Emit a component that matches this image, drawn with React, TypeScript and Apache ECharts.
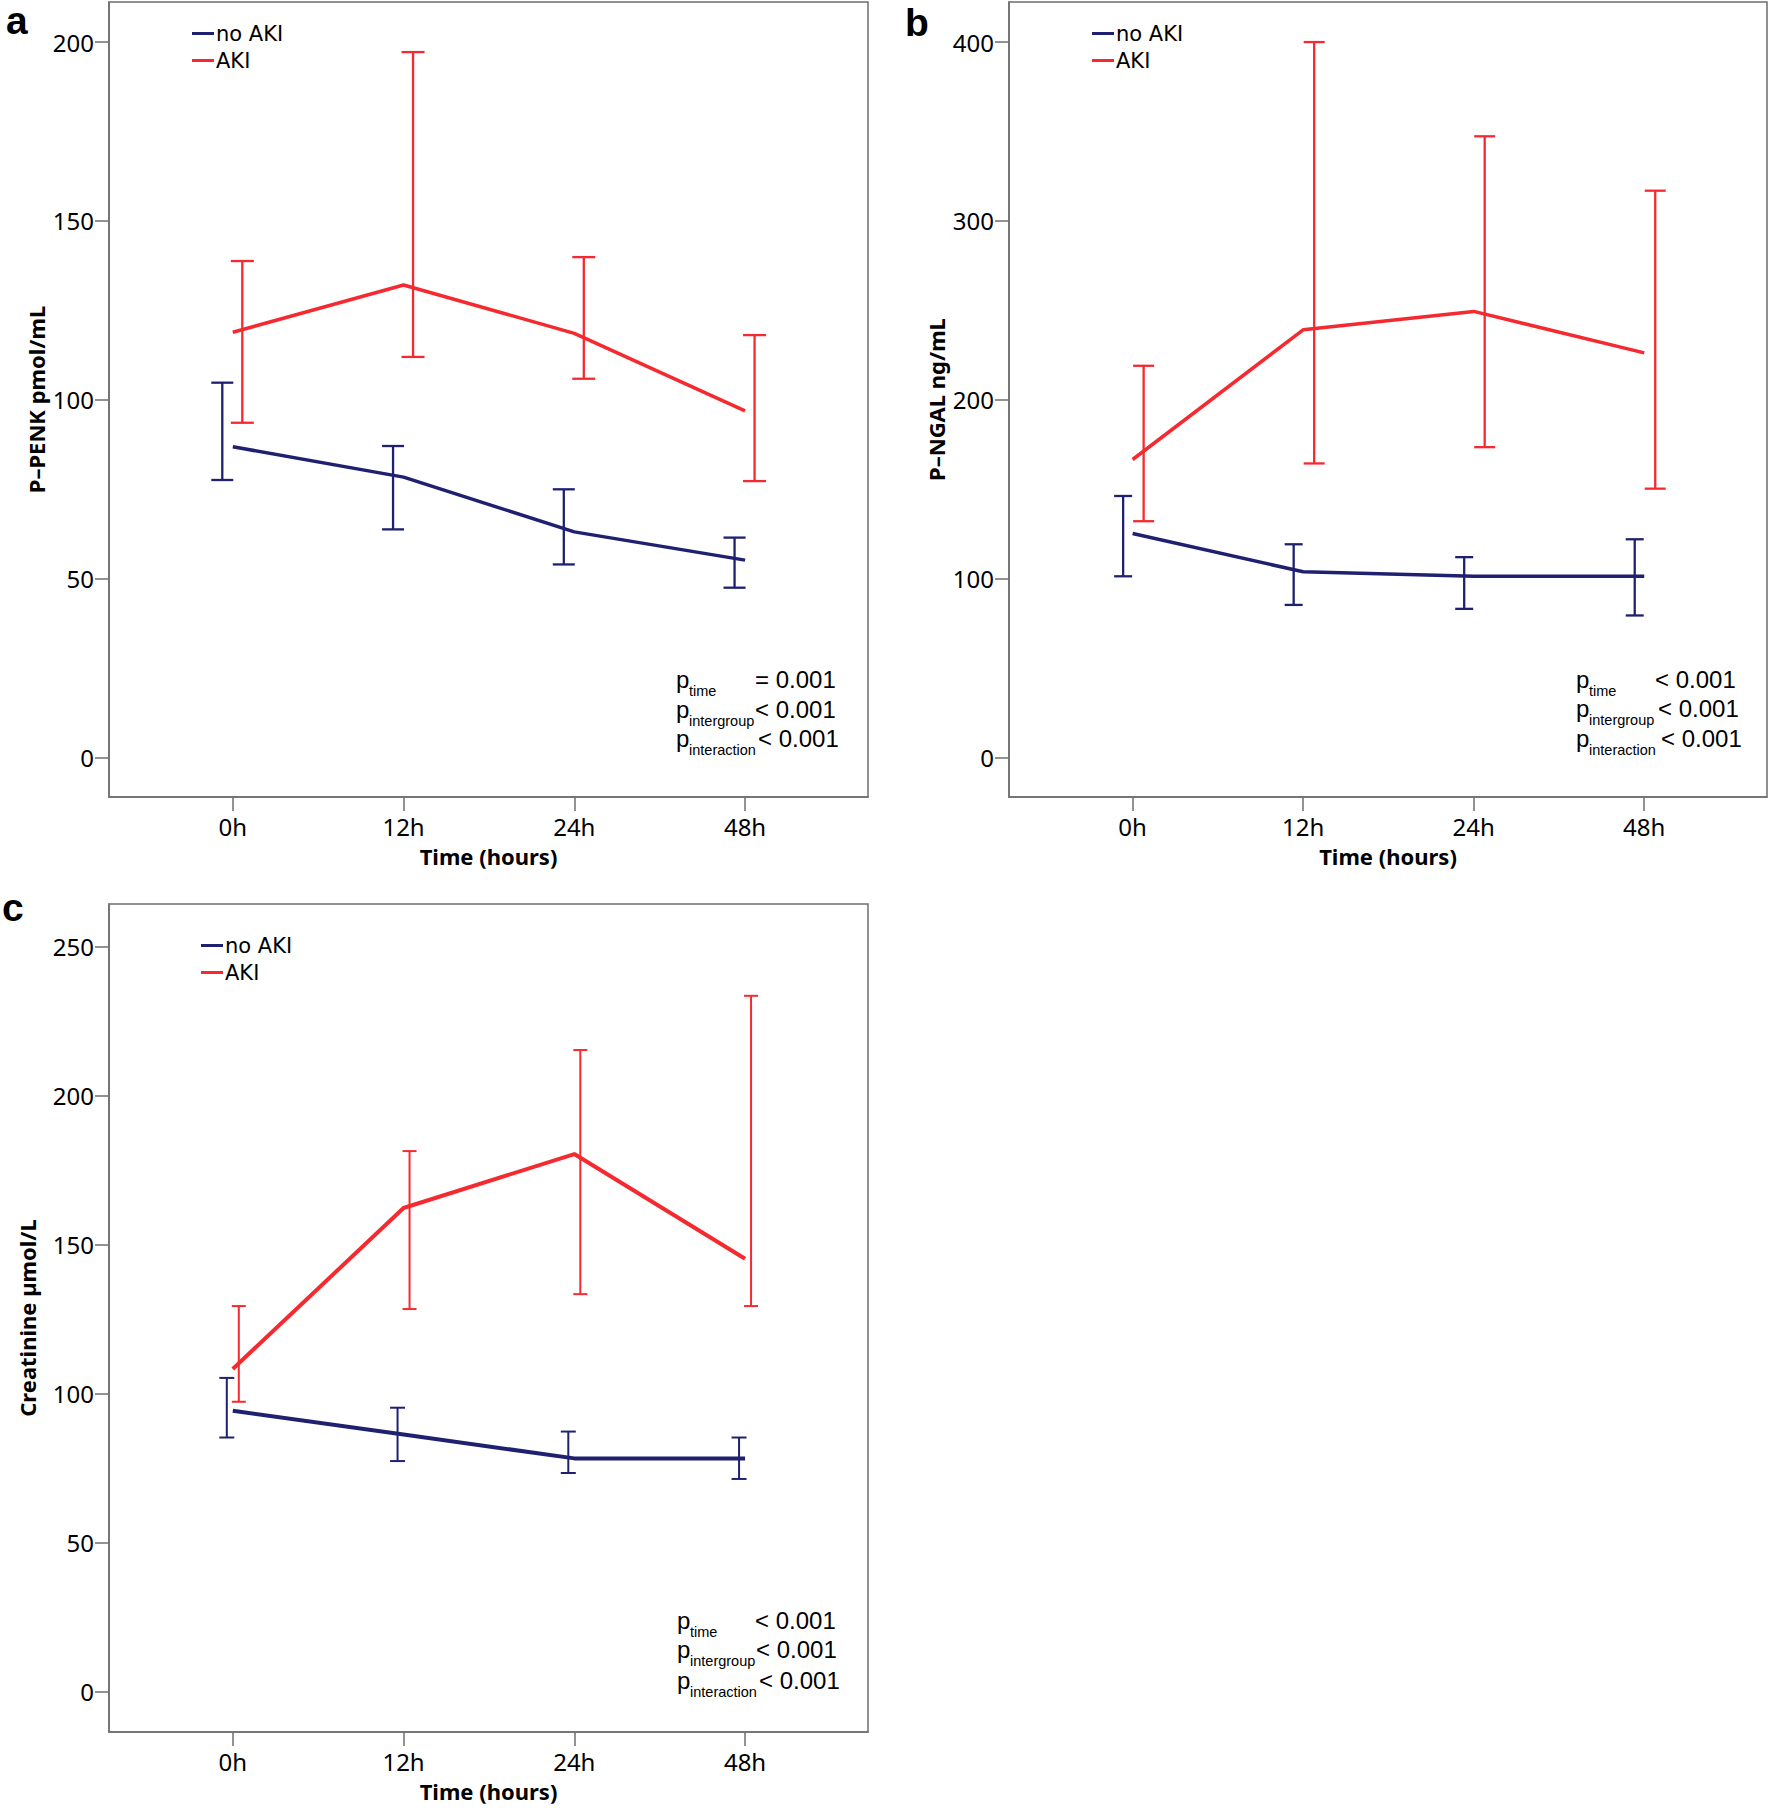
import React, { useEffect, useRef } from "react";
import * as echarts from "echarts";

// ---------- data ----------
const timeLabels = ["0h", "12h", "24h", "48h"];
const timeIndex = [0, 1, 2, 3];

// Panel a: P-PENK pmol/mL
const penkNoAkiMean = [86.9, 78.4, 63.1, 55.2];
const penkNoAkiLow = [77.6, 63.8, 54.0, 47.5];
const penkNoAkiHigh = [104.8, 87.1, 75.0, 61.5];
const penkAkiMean = [118.9, 132.1, 118.6, 96.9];
const penkAkiLow = [93.6, 112.0, 105.9, 77.3];
const penkAkiHigh = [138.8, 197.2, 139.9, 118.1];
const penkTicks = [0, 50, 100, 150, 200];

// Panel b: P-NGAL ng/mL
const ngalNoAkiMean = [125.2, 103.8, 101.3, 101.3];
const ngalNoAkiLow = [101.3, 85.3, 83.1, 79.4];
const ngalNoAkiHigh = [146.2, 119.2, 112.0, 122.0];
const ngalAkiMean = [166.6, 239.1, 249.4, 226.2];
const ngalAkiLow = [132.1, 164.4, 173.5, 150.3];
const ngalAkiHigh = [219.0, 400.0, 347.3, 316.9];
const ngalTicks = [0, 100, 200, 300, 400];

// Panel c: Creatinine µmol/L
const creaNoAkiMean = [94.3, 86.3, 78.3, 78.3];
const creaNoAkiLow = [85.3, 77.4, 73.4, 71.4];
const creaNoAkiHigh = [105.3, 95.3, 87.3, 85.3];
const creaAkiMean = [108.3, 162.3, 180.4, 145.3];
const creaAkiLow = [97.3, 128.4, 133.4, 129.4];
const creaAkiHigh = [129.4, 181.4, 215.3, 233.5];
const creaTicks = [0, 50, 100, 150, 200, 250];

const pSubs = ["time", "intergroup", "interaction"];
const pValsA = ["= 0.001", "< 0.001", "< 0.001"];
const pValsB = ["< 0.001", "< 0.001", "< 0.001"];
const pValsC = ["< 0.001", "< 0.001", "< 0.001"];

// ---------- style ----------
const NAVY = "#1f2170";
const RED = "#f52a30";
const FRAME = "#6e6e6e";
const SANS = "Noto Sans";
const LEG = "DejaVu Sans";
const ARIAL = "Liberation Sans";

type Panel = {
  grid: { left: number; top: number; width: number; height: number };
  yMin: number;
  yMax: number;
  ticks: number[];
  yName: string;
  yGap: number;
  noAki: number[][];
  aki: number[][];
  navyOff: number;
  redOff: number;
  navyCap: number;
  redCap: number;
  lineW: number;
  errW: number;
  legend: { left: number; top: number };
  letter: { t: string; x: number; y: number };
  p: { x: number; rows: number[]; valX: number[]; vals: string[] };
};

const makeErr =
  (color: string, offPx: number, halfCap: number, lw: number) =>
  (params: any, api: any) => {
    const x = api.value(0);
    const lo = api.coord([x, api.value(1)]);
    const hi = api.coord([x, api.value(2)]);
    const cx = lo[0] + offPx;
    const st = { stroke: color, lineWidth: lw, fill: null };
    return {
      type: "group",
      children: [
        { type: "line", shape: { x1: cx, y1: hi[1], x2: cx, y2: lo[1] }, style: st },
        { type: "line", shape: { x1: cx - halfCap, y1: hi[1], x2: cx + halfCap, y2: hi[1] }, style: st },
        { type: "line", shape: { x1: cx - halfCap, y1: lo[1], x2: cx + halfCap, y2: lo[1] }, style: st },
      ],
    };
  };

const pack = (mean: number[], low: number[], high: number[]) => [mean, low, high];

const panels: Panel[] = [
  {
    grid: { left: 109, top: 2, width: 759, height: 795 },
    yMin: -11.0,
    yMax: 211.2,
    ticks: penkTicks,
    yName: "P\u2013PENK pmol/mL",
    yGap: 62,
    noAki: pack(penkNoAkiMean, penkNoAkiLow, penkNoAkiHigh),
    aki: pack(penkAkiMean, penkAkiLow, penkAkiHigh),
    navyOff: -10.5,
    redOff: 9.5,
    navyCap: 11,
    redCap: 11.5,
    lineW: 3.5,
    errW: 2.3,
    legend: { left: 192, top: 23 },
    letter: { t: "a", x: 6, y: 20 },
    p: { x: 676, rows: [679, 709, 738.5], valX: [755, 755, 758], vals: pValsA },
  },
  {
    grid: { left: 1009, top: 2, width: 758, height: 795 },
    yMin: -22.1,
    yMax: 422.4,
    ticks: ngalTicks,
    yName: "P\u2013NGAL ng/mL",
    yGap: 62,
    noAki: pack(ngalNoAkiMean, ngalNoAkiLow, ngalNoAkiHigh),
    aki: pack(ngalAkiMean, ngalAkiLow, ngalAkiHigh),
    navyOff: -9.5,
    redOff: 11,
    navyCap: 9,
    redCap: 10.5,
    lineW: 3.5,
    errW: 2.3,
    legend: { left: 1092, top: 23 },
    letter: { t: "b", x: 905, y: 22 },
    p: { x: 1576, rows: [679, 708.8, 738.3], valX: [1655, 1658, 1661], vals: pValsB },
  },
  {
    grid: { left: 109, top: 904, width: 759, height: 828 },
    yMin: -13.5,
    yMax: 264.3,
    ticks: creaTicks,
    yName: "Creatinine \u00b5mol/L",
    yGap: 71,
    noAki: pack(creaNoAkiMean, creaNoAkiLow, creaNoAkiHigh),
    aki: pack(creaAkiMean, creaAkiLow, creaAkiHigh),
    navyOff: -6,
    redOff: 6,
    navyCap: 7.5,
    redCap: 7,
    lineW: 4,
    errW: 2,
    legend: { left: 201, top: 935 },
    letter: { t: "c", x: 2, y: 907 },
    p: { x: 677, rows: [1620, 1649.5, 1680], valX: [755, 756, 759], vals: pValsC },
  },
];

function buildOption() {
  const grid: any[] = [];
  const xAxis: any[] = [];
  const yAxis: any[] = [];
  const series: any[] = [];
  const legend: any[] = [];
  const graphic: any[] = [];

  panels.forEach((p, i) => {
    grid.push({ ...p.grid, show: true, borderColor: FRAME, borderWidth: 1.5, backgroundColor: "transparent", containLabel: false, outerBoundsMode: "none" });
    xAxis.push({
      type: "value",
      gridIndex: i,
      min: -0.725,
      max: 3.72,
      name: "Time (hours)",
      nameLocation: "middle",
      nameGap: 48,
      nameTextStyle: { fontFamily: SANS, fontWeight: "bold", fontSize: 22, color: "#000" },
      axisLine: { show: true, onZero: false, lineStyle: { color: FRAME, width: 1.5 } },
      axisTick: { show: true, length: 14, customValues: timeIndex, lineStyle: { color: FRAME, width: 1.5 } },
      axisLabel: {
        customValues: timeIndex,
        margin: 17,
        fontFamily: SANS,
        fontSize: 24,
        color: "#000",
        formatter: (v: number) => timeLabels[Math.round(v)] ?? "",
      },
      splitLine: { show: false },
    });
    yAxis.push({
      type: "value",
      gridIndex: i,
      min: p.yMin,
      max: p.yMax,
      name: p.yName,
      nameLocation: "middle",
      nameGap: p.yGap,
      nameTextStyle: { fontFamily: SANS, fontWeight: "bold", fontSize: 22, color: "#000" },
      axisLine: { show: true, onZero: false, lineStyle: { color: FRAME, width: 1.5 } },
      axisTick: { show: true, length: 14, customValues: p.ticks, lineStyle: { color: FRAME, width: 1.5 } },
      axisLabel: { customValues: p.ticks, margin: 15, fontFamily: SANS, fontSize: 24, color: "#000" },
      splitLine: { show: false },
    });

    const groups = [
      { name: "no AKI", color: NAVY, d: p.noAki, off: p.navyOff, cap: p.navyCap },
      { name: "AKI", color: RED, d: p.aki, off: p.redOff, cap: p.redCap },
    ];
    groups.forEach((g) => {
      series.push({
        type: "line",
        name: g.name,
        xAxisIndex: i,
        yAxisIndex: i,
        data: timeIndex.map((t, k) => [t, g.d[0][k]]),
        symbol: "none",
        color: g.color,
        itemStyle: { color: g.color },
        lineStyle: { color: g.color, width: p.lineW },
        z: 3,
      });
    });
    groups.forEach((g) => {
      series.push({
        type: "custom",
        name: g.name,
        xAxisIndex: i,
        yAxisIndex: i,
        data: timeIndex.map((t, k) => [t, g.d[1][k], g.d[2][k]]),
        encode: { x: 0, y: [1, 2] },
        itemStyle: { color: g.color },
        renderItem: makeErr(g.color, g.off, g.cap, p.errW),
        silent: true,
        z: 2,
      });
    });

    legend.push({
      orient: "vertical",
      left: p.legend.left,
      top: p.legend.top,
      itemWidth: 22,
      itemHeight: 3,
      itemGap: 6,
      selectedMode: false,
      padding: 0,
      textStyle: { fontFamily: LEG, fontSize: 21, color: "#000", lineHeight: 20, padding: [0, 0, 0, -3] },
      data: [
        { name: "no AKI", icon: "rect" },
        { name: "AKI", icon: "rect" },
      ],
    });

    graphic.push({
      type: "text",
      x: p.letter.x,
      y: p.letter.y,
      style: { text: p.letter.t, fontFamily: ARIAL, fontWeight: "bold", fontSize: 39, fill: "#000", align: "left", verticalAlign: "middle" },
    });

    p.p.rows.forEach((ry, r) => {
      graphic.push({
        type: "text",
        x: p.p.x,
        y: ry,
        style: { text: "p", fontFamily: ARIAL, fontSize: 24, fill: "#000", align: "left", verticalAlign: "middle" },
      });
      graphic.push({
        type: "text",
        x: p.p.x + 13,
        y: ry + 11.5,
        style: { text: pSubs[r], fontFamily: ARIAL, fontSize: 14.5, fill: "#000", align: "left", verticalAlign: "middle" },
      });
      graphic.push({
        type: "text",
        x: p.p.valX[r],
        y: ry,
        style: { text: p.p.vals[r], fontFamily: ARIAL, fontSize: 24, fill: "#000", align: "left", verticalAlign: "middle" },
      });
    });
  });

  return {
    animation: false,
    backgroundColor: "#ffffff",
    grid,
    xAxis,
    yAxis,
    series,
    legend,
    graphic,
  };
}

export default function App() {
  const ref = useRef<HTMLDivElement>(null);
  useEffect(() => {
    document.body.style.margin = "0";
    if (!ref.current) return;
    const chart = echarts.init(ref.current, undefined, { renderer: "svg" });
    chart.setOption(buildOption() as any);
    return () => chart.dispose();
  }, []);
  return <div ref={ref} style={{ width: 1770, height: 1812 }} />;
}
